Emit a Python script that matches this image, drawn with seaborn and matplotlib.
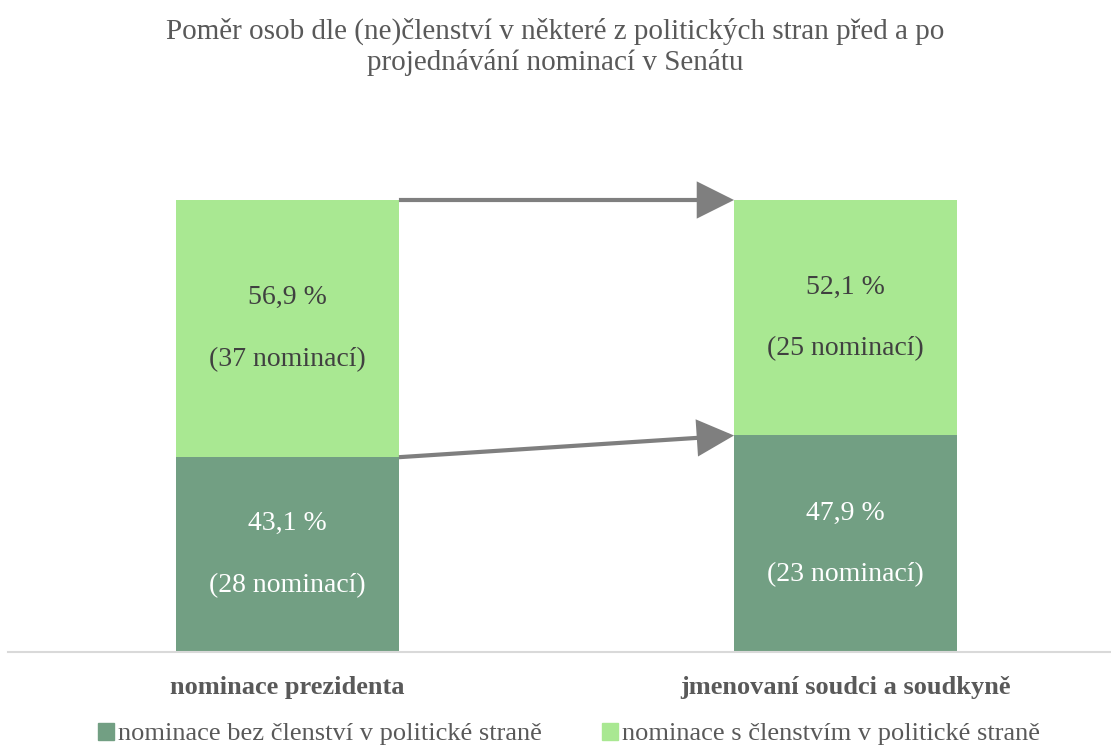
import matplotlib
matplotlib.use("Agg")
import matplotlib.pyplot as plt
from matplotlib.patches import Patch
import pandas as pd
import seaborn as sns

# ==================== DATA ====================
categories = ["nominace prezidenta", "jmenovaní soudci a soudkyně"]
bez_pct = [43.1, 47.9]          # nominace bez členství v politické straně
s_pct = [56.9, 52.1]            # nominace s členstvím v politické straně
bez_count = [28, 23]
s_count = [37, 25]
series_names = ["nominace bez členství v politické straně",
                "nominace s členstvím v politické straně"]
title = "Poměr osob dle (ne)členství v některé z politických stran před a po\nprojednávání nominací v Senátu"

DARK = "#729f83"
LIGHT = "#a9e892"
ARROW = "#7f7f7f"
TXT = "#595959"

sns.set_theme(style="white")
plt.rcParams["font.family"] = ["Liberation Serif", "DejaVu Serif"]

df = pd.DataFrame({
    "kategorie": categories,
    "bez": bez_pct,
    "s": s_pct,
})
df["celkem"] = df["bez"] + df["s"]

fig = plt.figure(figsize=(11.11, 7.49), dpi=100)
ax = fig.add_axes([8 / 1111, 97 / 749, 1 - 8 / 1111, 452 / 749])

# stacked bars: total (light) first, dark on top of it from zero
sns.barplot(data=df, x="kategorie", y="celkem", color=LIGHT, width=0.4,
            saturation=1, linewidth=0, ax=ax)
sns.barplot(data=df, x="kategorie", y="bez", color=DARK, width=0.4,
            saturation=1, linewidth=0, ax=ax)

ax.set_xlim(-0.5, 1.475)
ax.set_ylim(0, 100)
ax.set_xlabel("")
ax.set_ylabel("")
ax.set_yticks([])
ax.tick_params(axis="x", length=0, pad=17)
ax.set_xticks(range(len(categories)))
ax.set_xticklabels(categories, fontsize=19, fontweight="bold", color=TXT)
for side in ["top", "left", "right"]:
    ax.spines[side].set_visible(False)
ax.spines["bottom"].set_color("#d9d9d9")
ax.spines["bottom"].set_linewidth(1.5)

# data labels
fmt = lambda v: f"{v:.1f}".replace(".", ",") + " %"
for i in range(len(categories)):
    ax.text(i, bez_pct[i] / 2, f"{fmt(bez_pct[i])}\n\n({bez_count[i]} nominací)",
            ha="center", va="center", fontsize=20, color="white", linespacing=1.3)
    ax.text(i, bez_pct[i] + s_pct[i] / 2, f"{fmt(s_pct[i])}\n\n({s_count[i]} nominací)",
            ha="center", va="center", fontsize=20, color="#404040", linespacing=1.3)

# arrows between bars
arrow_kw = dict(arrowstyle="-|>,head_length=1.0,head_width=0.5", color=ARROW,
                lw=3, shrinkA=0, shrinkB=0, mutation_scale=22,
                joinstyle="miter", capstyle="butt")
ax.annotate("", xy=(0.8, bez_pct[1] + s_pct[1]), xytext=(0.2, bez_pct[0] + s_pct[0]),
            arrowprops=arrow_kw, annotation_clip=False)
ax.annotate("", xy=(0.8, bez_pct[1]), xytext=(0.2, bez_pct[0]),
            arrowprops=arrow_kw, annotation_clip=False)

fig.text(0.5, 1 - 47 / 749, title, ha="center", va="center", fontsize=21,
         color=TXT, linespacing=1.18)

handles = [Patch(color=DARK), Patch(color=LIGHT)]
fig.legend(handles, series_names, loc="lower center", bbox_to_anchor=(0.512, -0.027),
           ncol=2, frameon=False, fontsize=19, labelcolor=TXT,
           handlelength=0.6, handleheight=0.6, handletextpad=0.15, columnspacing=2.28)

fig.savefig("out.png", dpi=100)
